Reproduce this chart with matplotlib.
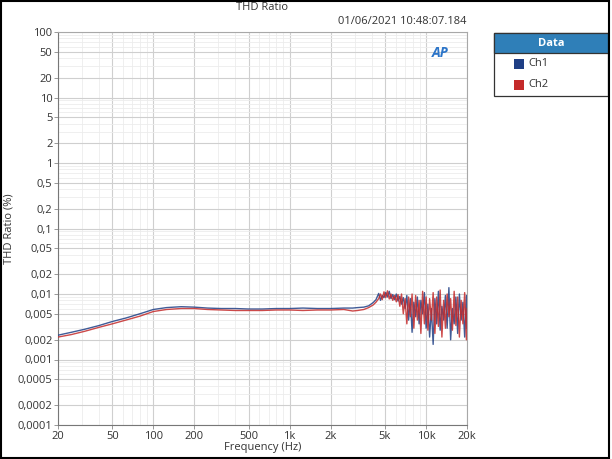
"""
THD Ratio vs frequency, Audio Precision style export (Ch1 / Ch2).
Output: out.png
"""
import matplotlib

matplotlib.use("agg")
import matplotlib.pyplot as plt  # noqa: E402
from matplotlib.patches import Rectangle  # noqa: E402
from matplotlib.ticker import FixedLocator, NullFormatter  # noqa: E402

plt.rcParams["font.family"] = ["Open Sans", "DejaVu Sans"]

# frequency points (Hz), smooth part + noisy top end
freq = [20, 25, 31.5, 40, 50, 63, 80, 100, 125, 160, 200, 250, 315, 400, 500,
        630, 800, 1000, 1250, 1600, 2000, 2500, 2900, 3150, 3500, 3800, 4100, 4300,
        4500, 4640, 4780, 4920, 5070, 5220, 5380, 5540, 5710, 5880, 6060, 6240,
        6430, 6620, 6820, 7030, 7240, 7460, 7680, 7910, 8150, 8400, 8650, 8910,
        9180, 9450, 9740, 10030, 10330, 10640, 10960, 11290, 11630, 11980, 12340,
        12710, 13090, 13480, 13890, 14300, 14730, 15170, 15630, 16100, 16580,
        17080, 17590, 18120, 18670, 19230, 19800, 20000]

# THD ratio (%)
ch1 = [0.00235, 0.0026, 0.0029, 0.0033, 0.0038, 0.0043, 0.0050, 0.0058, 0.0062,
       0.0064, 0.0063, 0.0061, 0.0060, 0.0060, 0.0059, 0.0059, 0.0060, 0.0060,
       0.0061, 0.0060, 0.0060, 0.0061, 0.0061, 0.0062, 0.0063, 0.0066, 0.0074,
       0.0082,
       0.0102, 0.0080, 0.0095, 0.0088, 0.0105, 0.0090, 0.0110, 0.0085, 0.0098,
       0.0082, 0.0100, 0.0078, 0.0092, 0.0070, 0.0088, 0.0060, 0.0095, 0.0040,
       0.0085, 0.0026, 0.0075, 0.0045, 0.0090, 0.0035, 0.0080, 0.0050, 0.0105,
       0.0030, 0.0070, 0.0022, 0.0060, 0.0017, 0.0085, 0.0035, 0.0110, 0.0028,
       0.0065, 0.0040, 0.0095, 0.0030, 0.0125, 0.0020, 0.0060, 0.0035, 0.0090,
       0.0025, 0.0100, 0.0040, 0.0075, 0.0022, 0.0095, 0.0030]
ch2 = [0.0022, 0.0024, 0.0027, 0.0031, 0.0035, 0.0040, 0.0046, 0.0054, 0.0058,
       0.0060, 0.0060, 0.0058, 0.0057, 0.0056, 0.0056, 0.0056, 0.0057, 0.0057,
       0.0056, 0.0057, 0.0057, 0.0058, 0.0055, 0.0056, 0.0058, 0.0062, 0.0068,
       0.0075,
       0.0085, 0.0100, 0.0082, 0.0108, 0.0088, 0.0112, 0.0084, 0.0100, 0.0080,
       0.0095, 0.0076, 0.0098, 0.0065, 0.0100, 0.0050, 0.0085, 0.0035, 0.0090,
       0.0045, 0.0100, 0.0030, 0.0095, 0.0040, 0.0080, 0.0025, 0.0110, 0.0035,
       0.0090, 0.0028, 0.0085, 0.0040, 0.0105, 0.0025, 0.0090, 0.0032, 0.0115,
       0.0022, 0.0080, 0.0030, 0.0100, 0.0045, 0.0085, 0.0028, 0.0110, 0.0033,
       0.0090, 0.0022, 0.0080, 0.0035, 0.0105, 0.0020, 0.0060]

x_ticks = [20, 50, 100, 200, 500, 1000, 2000, 5000, 10000, 20000]
x_labels = ["20", "50", "100", "200", "500", "1k", "2k", "5k", "10k", "20k"]
y_ticks = [0.0001, 0.0002, 0.0005, 0.001, 0.002, 0.005, 0.01, 0.02, 0.05, 0.1,
           0.2, 0.5, 1, 2, 5, 10, 20, 50, 100]
y_labels = ["0,0001", "0,0002", "0,0005", "0,001", "0,002", "0,005", "0,01",
            "0,02", "0,05", "0,1", "0,2", "0,5", "1", "2", "5", "10", "20", "50", "100"]

C1, C2 = "#1f3f85", "#c42a2a"
TXT = "#333333"

fig = plt.figure(figsize=(6.12, 4.59), dpi=100)
ax = fig.add_axes([58 / 612, 1 - 425 / 459, (467 - 58) / 612, (425 - 32) / 459])

ax.plot(freq, ch1, color=C1, lw=1.0, alpha=0.85, zorder=3)
ax.plot(freq, ch2, color=C2, lw=1.0, alpha=0.85, zorder=3)

ax.set_xscale("log")
ax.set_yscale("log")
ax.set_xlim(20, 20000)
ax.set_ylim(0.0001, 100)

ax.xaxis.set_major_locator(FixedLocator(x_ticks))
ax.set_xticklabels(x_labels)
ax.yaxis.set_major_locator(FixedLocator(y_ticks))
ax.set_yticklabels(y_labels)
x_minor = [m * 10 ** e for e in range(1, 5) for m in range(1, 10)]
y_minor = [m * 10.0 ** e for e in range(-4, 2) for m in range(1, 10)]
ax.xaxis.set_minor_locator(FixedLocator(x_minor))
ax.yaxis.set_minor_locator(FixedLocator(y_minor))
ax.xaxis.set_minor_formatter(NullFormatter())
ax.yaxis.set_minor_formatter(NullFormatter())

ax.grid(which="major", color="#cfcfcf", lw=0.8)
ax.grid(which="minor", color="#ececec", lw=0.6)
ax.set_axisbelow(True)
ax.tick_params(which="major", length=3, width=0.6, color="#888888",
               labelsize=8, labelcolor=TXT, pad=1)
ax.tick_params(which="minor", length=0)
for s in ax.spines.values():
    s.set_color("#a8a8a8")
    s.set_linewidth(0.8)
ax.spines["left"].set_color("#777777")
ax.spines["bottom"].set_color("#777777")

ax.set_xlabel("Frequency (Hz)", fontsize=8, color=TXT, labelpad=0)
ax.set_ylabel("THD Ratio (%)", fontsize=8, color=TXT, labelpad=2)

fig.text(262 / 612, 1 - 8 / 459, "THD Ratio", ha="center", va="center",
         fontsize=8, color=TXT)
fig.text(466 / 612, 1 - 22 / 459, "01/06/2021 10:48:07.184", ha="right",
         va="center", fontsize=8, color=TXT)
ax.text(0.955, 0.965, "AP", transform=ax.transAxes, ha="right", va="top",
        fontsize=10, fontweight="bold", style="italic", color="#2b74c8")

# legend panel
fig.patches.append(Rectangle((494 / 612, 1 - 96 / 459), 114 / 612, 63 / 459,
                             transform=fig.transFigure, facecolor="white",
                             edgecolor="#333333", lw=0.9))
fig.patches.append(Rectangle((494 / 612, 1 - 53 / 459), 114 / 612, 20 / 459,
                             transform=fig.transFigure, facecolor="#2f7fb8",
                             edgecolor="#333333", lw=0.9))
fig.text(551 / 612, 1 - 43 / 459, "Data", ha="center", va="center",
         fontsize=8, fontweight="bold", color="white")
for i, (name, col) in enumerate([("Ch1", C1), ("Ch2", C2)]):
    yc = 64 + 21 * i
    fig.patches.append(Rectangle((514 / 612, 1 - (yc + 5) / 459), 10 / 612,
                                 10 / 459, transform=fig.transFigure,
                                 facecolor=col, edgecolor="none"))
    fig.text(528 / 612, 1 - yc / 459, name, ha="left", va="center",
             fontsize=8, color=TXT)

# outer frame
fig.patches.append(Rectangle((0.002, 0.003), 0.993, 0.994,
                             transform=fig.transFigure, facecolor="none",
                             edgecolor="black", lw=1.5))

fig.savefig("out.png", dpi=100)
